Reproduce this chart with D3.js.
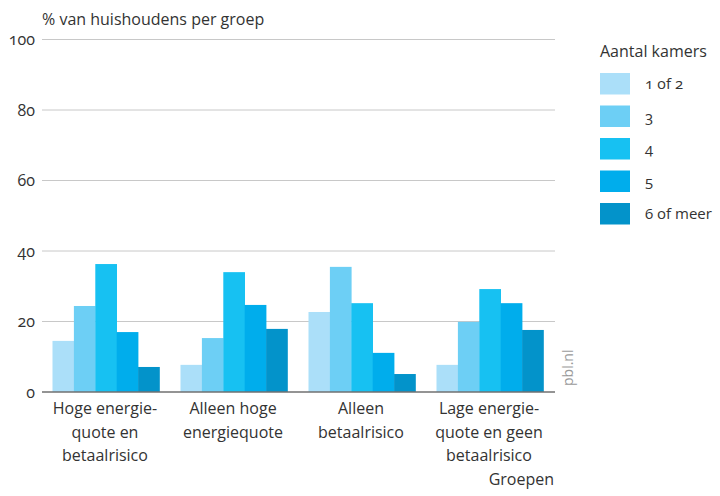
<!DOCTYPE html>
<html>
<head>
<meta charset="utf-8">
<script src="https://cdn.jsdelivr.net/npm/d3@7"></script>
<style>
  html, body { margin: 0; padding: 0; background: #fff; }
  svg { display: block; font-family: "Open Sans", "Noto Sans", sans-serif; }
</style>
</head>
<body>
<svg id="chart" width="720" height="496"></svg>
<script>
// Groups (x categories), each label split over lines
const groups = [
  ["Hoge energie-", "quote en", "betaalrisico"],
  ["Alleen hoge", "energiequote"],
  ["Alleen", "betaalrisico"],
  ["Lage energie-", "quote en geen", "betaalrisico"]
];
// Room-count series
const series = ["1 of 2", "3", "4", "5", "6 of meer"];
const seriesColors = ["#abdff9", "#6dcff5", "#17c1f2", "#00adec", "#0393ca"];
// % of households per group, one array per room-count series
const valsRooms12 = [14.5, 7.7, 22.7, 7.7];
const valsRooms3  = [24.4, 15.3, 35.5, 19.9];
const valsRooms4  = [36.3, 34.0, 25.2, 29.2];
const valsRooms5  = [17.0, 24.7, 11.1, 25.2];
const valsRooms6  = [7.1, 17.9, 5.1, 17.6];
const seriesValues = [valsRooms12, valsRooms3, valsRooms4, valsRooms5, valsRooms6];
const yTicks = [0, 20, 40, 60, 80, 100];

const svg = d3.select("#chart");
const plotLeft = 42, plotRight = 554, plotTop = 39.5, plotBottom = 392;
const textColor = "#333";
const fontSize = 16;

const x0 = d3.scaleBand().domain(d3.range(groups.length)).range([plotLeft, plotRight])
  .paddingInner(0.164).paddingOuter(0.082);
const x1 = d3.scaleBand().domain(d3.range(series.length)).range([0, x0.bandwidth()]);
const y = d3.scaleLinear().domain([0, 100]).range([plotBottom, plotTop]);

// gridlines
svg.append("g").selectAll("line").data(yTicks.filter(d => d > 0)).join("line")
  .attr("x1", plotLeft).attr("x2", plotRight + 1)
  .attr("y1", d => y(d)).attr("y2", d => y(d))
  .attr("stroke", "#c8c8c8").attr("stroke-width", 1);

// y-axis labels
const yAxis = d3.axisLeft(y).tickValues(yTicks).tickSize(0).tickPadding(7);
const yg = svg.append("g").attr("transform", `translate(${plotLeft},0)`).call(yAxis);
yg.select(".domain").remove();
yg.selectAll("text").attr("font-size", fontSize).attr("fill", textColor)
  .style("font-family", "\"Open Sans\", sans-serif")
  .style("font-variant-numeric", "oldstyle-nums");

// bars
const gGroups = svg.append("g").selectAll("g").data(groups).join("g")
  .attr("transform", (d, i) => `translate(${x0(i)},0)`);
gGroups.selectAll("rect")
  .data((d, i) => seriesValues.map((vals, s) => ({ s, v: vals[i] })))
  .join("rect")
  .attr("x", d => x1(d.s)).attr("width", x1.bandwidth() + 0.3)
  .attr("y", d => y(d.v)).attr("height", d => y(0) - y(d.v))
  .attr("fill", d => seriesColors[d.s]);

// baseline
svg.append("line").attr("x1", plotLeft).attr("x2", plotRight + 1)
  .attr("y1", y(0)).attr("y2", y(0))
  .attr("stroke", "#707070").attr("stroke-width", 1.5);

// x category labels
const xl = svg.append("g").selectAll("text").data(groups).join("text")
  .attr("x", (d, i) => x0(i) + x0.bandwidth() / 2 - 1)
  .attr("y", 414)
  .attr("text-anchor", "middle").attr("font-size", fontSize).attr("fill", textColor);
xl.selectAll("tspan").data(d => d).join("tspan")
  .attr("x", function () { return d3.select(this.parentNode).attr("x"); })
  .attr("dy", (d, i) => i === 0 ? 0 : 23.5)
  .text(d => d);

// axis titles
svg.append("text").attr("x", plotLeft).attr("y", 25).attr("font-size", fontSize)
  .attr("fill", textColor).text("% van huishoudens per groep");
svg.append("text").attr("x", plotRight).attr("y", 485).attr("text-anchor", "end")
  .attr("font-size", fontSize).attr("fill", textColor).text("Groepen");

// source tag
svg.append("text").attr("transform", `translate(573,386) rotate(-90)`)
  .attr("font-size", 14).attr("fill", "#9a9a9a").text("pbl.nl");

// legend
const legend = svg.append("g");
legend.append("text").attr("x", 600).attr("y", 57).attr("font-size", fontSize)
  .attr("fill", textColor).text("Aantal kamers");
const li = legend.selectAll("g.item").data(series).join("g").attr("class", "item")
  .attr("transform", (d, i) => `translate(600,${73 + i * 32.5})`);
li.append("rect").attr("width", 30).attr("height", 21.5)
  .attr("fill", (d, i) => seriesColors[i]);
li.append("text").attr("x", 45).attr("y", 11).attr("dy", "0.35em")
  .attr("font-size", 15).attr("fill", textColor)
  .style("font-variant-numeric", "oldstyle-nums").text(d => d);
</script>
</body>
</html>
